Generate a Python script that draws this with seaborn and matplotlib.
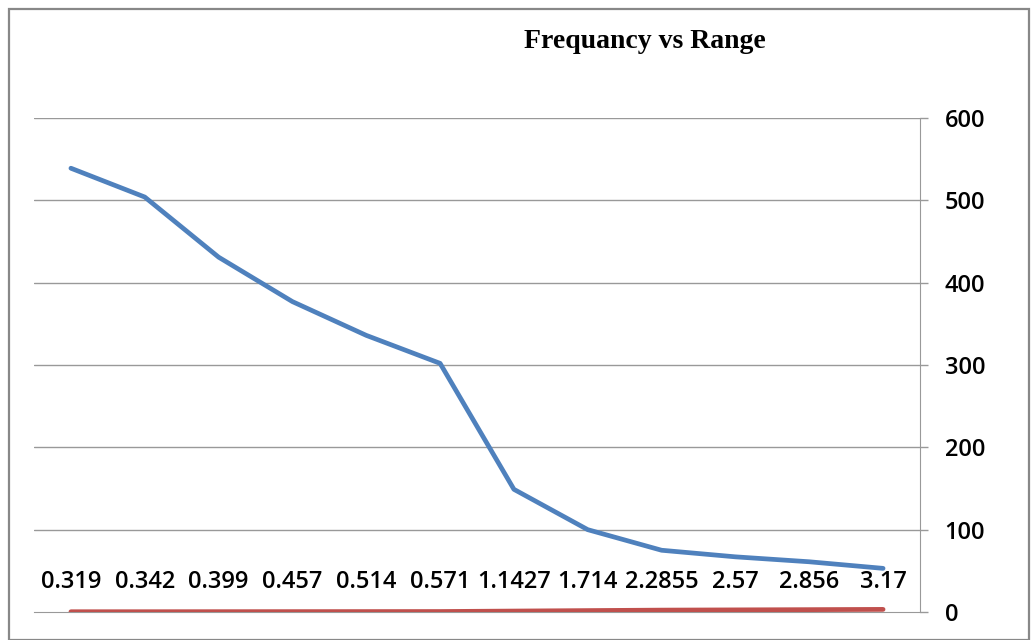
import pandas as pd
import matplotlib.pyplot as plt
import seaborn as sns
from matplotlib.patches import Rectangle

ranges = ['0.319', '0.342', '0.399', '0.457', '0.514', '0.571', '1.1427',
          '1.714', '2.2855', '2.57', '2.856', '3.17']
frequency = [539, 504, 431, 377, 336, 302, 149, 100, 75, 67, 61, 53]
range_values = [0.319, 0.342, 0.399, 0.457, 0.514, 0.571, 1.1427,
                1.714, 2.2855, 2.57, 2.856, 3.17]

df = pd.DataFrame({
    'pos': list(range(len(ranges))) * 2,
    'value': frequency + range_values,
    'series': ['Frequency'] * len(ranges) + ['Range'] * len(ranges),
})

sns.set_style('white')
plt.rcParams['font.family'] = ['Open Sans', 'DejaVu Sans']

fig = plt.figure(figsize=(10.32, 6.4), dpi=100)
ax = fig.add_axes([34 / 1032, 1 - 612 / 640, (920 - 34) / 1032, (612 - 118) / 640])

sns.lineplot(data=df, x='pos', y='value', hue='series',
             palette={'Frequency': '#4F81BD', 'Range': '#C0504D'},
             linewidth=3.4, legend=False, ax=ax, zorder=3)

ax.set_xlim(-0.5, len(ranges) - 0.5)
ax.set_ylim(0, 600)
ax.set_yticks(range(0, 601, 100))
ax.yaxis.tick_right()
ax.set_xticks(range(len(ranges)))
ax.set_xticklabels(ranges)
ax.tick_params(axis='x', length=0, pad=-30, labelsize=17, labelcolor='black')
ax.tick_params(axis='y', right=True, length=5.8, width=1, color='#999999',
               pad=12, labelsize=17, labelcolor='black')
for lbl in ax.get_xticklabels() + ax.get_yticklabels():
    lbl.set_fontweight('semibold')
ax.set_xlabel('')
ax.set_ylabel('')

for v in range(100, 601, 100):
    ax.axhline(v, color='#999999', lw=1, zorder=1)
ax.grid(False)
for side in ['left', 'top']:
    ax.spines[side].set_visible(False)
ax.spines['right'].set_color('#999999')
ax.spines['bottom'].set_color('#999999')

fig.text(645 / 1032, 1 - 42 / 640, 'Frequancy vs Range', ha='center', va='center',
         fontsize=20, fontweight='bold', color='black',
         family=['Liberation Serif', 'DejaVu Serif'])

fig.patches.append(Rectangle((9 / 1032, 0), 1020 / 1032, 1 - 9 / 640, transform=fig.transFigure,
                             fill=False, edgecolor='#888888', lw=1.6))

fig.savefig('out.png', dpi=100)
